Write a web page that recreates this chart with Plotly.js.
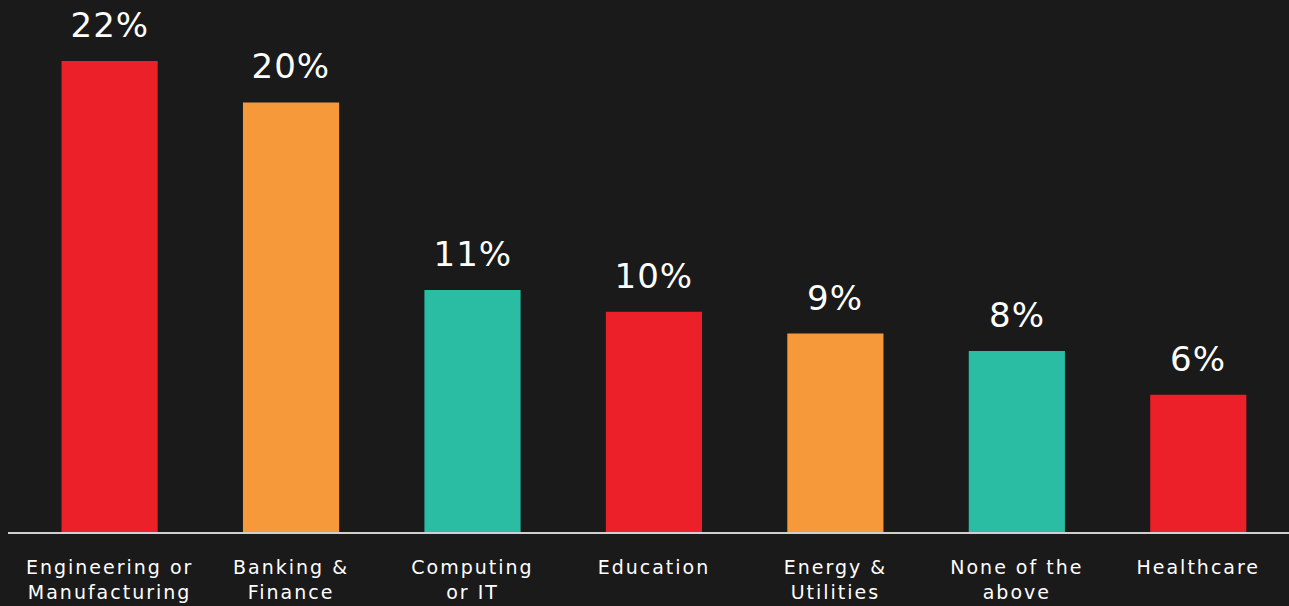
<!DOCTYPE html>
<html>
<head>
<meta charset="utf-8">
<script src="https://cdn.plot.ly/plotly-3.0.1.min.js"></script>
<style>
  html, body { margin: 0; padding: 0; background: #1a1a1a; }
  #chart { width: 1289px; height: 606px; }
  #chart .xtick text { letter-spacing: 2px; }
  #chart .annotation-text { letter-spacing: 1px; }
</style>
</head>
<body>
<div id="chart"></div>
<script>
const categories = ["Engineering or<br>Manufacturing", "Banking &<br>Finance", "Computing<br>or IT", "Education", "Energy &<br>Utilities", "None of the<br>above", "Healthcare"];
const values = [21.6, 19.7, 11.1, 10.1, 9.1, 8.3, 6.3];
const valueLabels = ["22%", "20%", "11%", "10%", "9%", "8%", "6%"];
const barColors = ["#ec2028", "#f5993a", "#2abda4", "#ec2028", "#f5993a", "#2abda4", "#ec2028"];

const FONT = "DejaVu Sans, sans-serif";

const trace = {
  type: "bar",
  x: categories,
  y: values,
  marker: { color: barColors, line: { width: 0 } },
  hoverinfo: "none"
};

const annotations = categories.map((c, i) => ({
  x: c,
  y: values[i],
  xref: "x",
  yref: "y",
  text: valueLabels[i],
  showarrow: false,
  yanchor: "bottom",
  yshift: 14,
  font: { family: FONT, size: 34, color: "#ffffff" }
}));

const layout = {
  width: 1289,
  height: 606,
  paper_bgcolor: "#1a1a1a",
  plot_bgcolor: "#1a1a1a",
  margin: { l: 8, r: 0, t: 0, b: 74 },
  bargap: 0.47,
  showlegend: false,
  xaxis: {
    type: "category",
    range: [-0.56, 6.5],
    showline: true,
    linecolor: "#d0d0d0",
    linewidth: 1.5,
    showgrid: false,
    zeroline: false,
    ticks: "",
    ticklabelstandoff: 18,
    tickfont: { family: FONT, size: 19, color: "#ffffff" }
  },
  yaxis: {
    range: [0, 24.4],
    visible: false,
    showgrid: false,
    zeroline: false
  },
  annotations: annotations
};

Plotly.newPlot("chart", [trace], layout, { displayModeBar: false, staticPlot: true });
</script>
</body>
</html>
